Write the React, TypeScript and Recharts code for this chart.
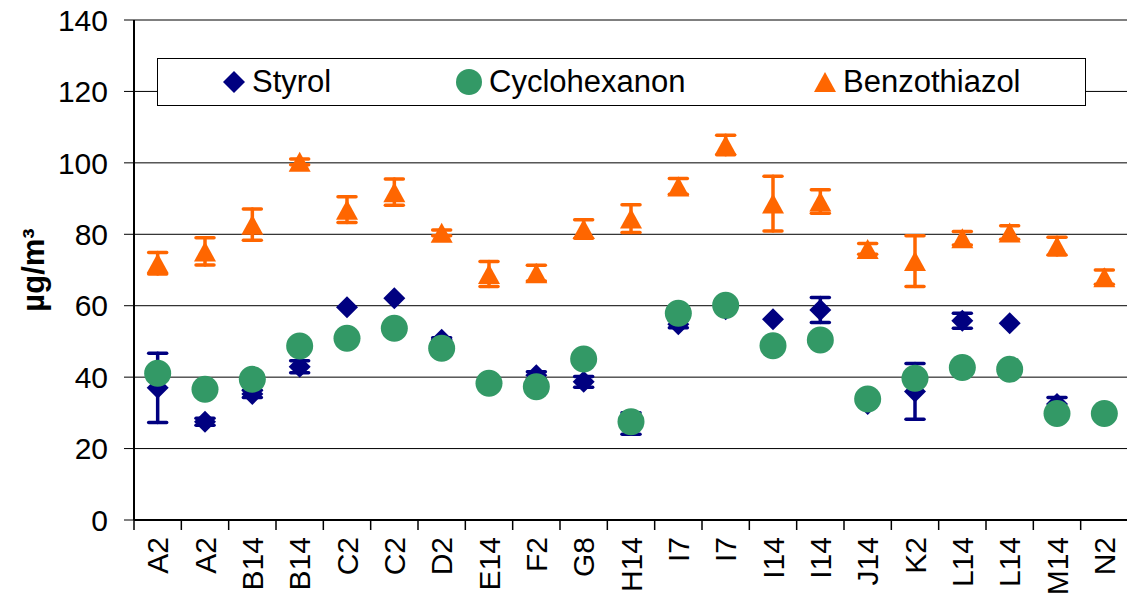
import React from 'react';
import { ComposedChart, Scatter, XAxis, YAxis, CartesianGrid, ErrorBar, Legend } from 'recharts';

const CATEGORIES = ['A2', 'A2', 'B14', 'B14', 'C2', 'C2', 'D2', 'E14', 'F2', 'G8', 'H14', 'I7', 'I7', 'I14', 'I14', 'J14', 'K2', 'L14', 'L14', 'M14', 'N2'];
const STYROL = [37, 27.5, 35.3, 42.9, 59.6, 62.1, 50.5, 38, 40.5, 38.7, 27, 54.8, 59, 56.2, 58.8, 32.5, 36, 55.8, 55.1, 32.5, 30];
const STYROL_ERR = [9.7, 1, 1, 1.7, 0, 0, 0.5, 0, 1, 1.5, 3, 1, 0.5, 0, 3.5, 0.5, 7.8, 2.1, 0, 1.8, 0];
const CYCLOHEXANON = [41.1, 36.6, 39.4, 48.7, 50.9, 53.7, 48.1, 38.3, 37.3, 45.1, 27.5, 57.9, 60.1, 48.8, 50.4, 33.9, 39.7, 42.7, 42.2, 29.8, 29.8];
const BENZOTHIAZOL = [71.9, 75.2, 82.7, 100.3, 86.9, 91.8, 80.4, 68.9, 69.1, 81.5, 84.4, 93.4, 105, 88.6, 89.2, 75.9, 72.5, 78.9, 80.5, 76.7, 68];
const BENZOTHIAZOL_ERR = [3, 3.8, 4.4, 0.8, 3.6, 3.7, 0.8, 3.5, 2.2, 2.6, 3.9, 2.2, 2.7, 7.65, 3.3, 1.5, 7.1, 1.9, 1.9, 2.5, 2];
const Y_TICKS = [0, 20, 40, 60, 80, 100, 120, 140];
const SERIES_NAMES = ['Styrol', 'Cyclohexanon', 'Benzothiazol'];

const NAVY = '#000080';
const GREEN = '#339966';
const ORANGE = '#FF6600';
const FONT = '"Liberation Sans", Arial, sans-serif';

const CHART_W = 1130;
const CHART_H = 603;
const Y_AXIS_W = 134;
const X_AXIS_H = 83;
const MARGIN = { top: 20, right: 2, left: 0, bottom: 0 };
const PLOT_W = CHART_W - Y_AXIS_W - MARGIN.left - MARGIN.right;
const AXIS_Y = CHART_H - X_AXIS_H - MARGIN.bottom;

const data = CATEGORIES.map((name, i) => ({
  idx: i,
  name,
  styrol: STYROL[i],
  styrolErr: STYROL_ERR[i],
  cyclo: CYCLOHEXANON[i],
  benz: BENZOTHIAZOL[i],
  benzErr: BENZOTHIAZOL_ERR[i],
}));

const Diamond = (props: any) => {
  const { cx, cy } = props;
  if (cx == null || cy == null) return null;
  const s = 11;
  return <path d={`M${cx},${cy - s}L${cx + s},${cy}L${cx},${cy + s}L${cx - s},${cy}Z`} fill={NAVY} />;
};
const Dot = (props: any) => {
  const { cx, cy } = props;
  if (cx == null || cy == null) return null;
  return <circle cx={cx} cy={cy} r={13.5} fill={GREEN} />;
};
const Tri = (props: any) => {
  const { cx, cy } = props;
  if (cx == null || cy == null) return null;
  return <path d={`M${cx},${cy - 10}L${cx + 11},${cy + 10}L${cx - 11},${cy + 10}Z`} fill={ORANGE} />;
};

const XTick = (props: any) => {
  const { x, payload } = props;
  const band = PLOT_W / CATEGORIES.length;
  return (
    <g>
      <line x1={x - band / 2} x2={x - band / 2} y1={AXIS_Y} y2={AXIS_Y + 10} stroke="#000" strokeWidth={1.5} />
      <text
        transform={`translate(${x},${AXIS_Y + 17}) rotate(-90)`}
        textAnchor="end"
        dy="0.35em"
        fontSize={30}
        fontFamily={FONT}
        fill="#000"
      >
        {CATEGORIES[payload.value]}
      </text>
    </g>
  );
};

const YTitle = (props: any) => {
  const vb = props.viewBox || { x: 0, y: 20, width: 134, height: 500 };
  const cx = vb.x + 33;
  const cy = vb.y + vb.height / 2;
  return (
    <text
      transform={`translate(${cx},${cy}) rotate(-90)`}
      textAnchor="middle"
      dy="0.35em"
      fontSize={31}
      fontWeight="bold"
      fontFamily={FONT}
      fill="#000"
    >
      µg/m³
    </text>
  );
};

const legendSymbol = (i: number) => {
  if (i === 0) return <svg width={24} height={24}><path d="M12,1L23,12L12,23L1,12Z" fill={NAVY} /></svg>;
  if (i === 1) return <svg width={28} height={28}><circle cx={14} cy={14} r={13} fill={GREEN} /></svg>;
  return <svg width={24} height={22}><path d="M12,1L23,21L1,21Z" fill={ORANGE} /></svg>;
};

const LEGEND_ITEM_LEFT = [64, 297, 655];

const LegendBox = () => (
  <div
    style={{
      position: 'relative',
      width: 929,
      height: 48,
      boxSizing: 'border-box',
      border: '1px solid #000',
      background: '#fff',
      fontFamily: FONT,
      fontSize: 31,
      color: '#000',
    }}
  >
    {SERIES_NAMES.map((n, i) => (
      <div
        key={n}
        style={{
          position: 'absolute',
          left: LEGEND_ITEM_LEFT[i],
          top: 0,
          height: 46,
          display: 'flex',
          alignItems: 'center',
          gap: 6,
          whiteSpace: 'nowrap',
        }}
      >
        {legendSymbol(i)}
        <span style={{ lineHeight: '46px' }}>{n}</span>
      </div>
    ))}
  </div>
);

export default function App() {
  return (
    <div style={{ position: 'absolute', left: 0, top: 0, width: CHART_W, height: CHART_H, background: '#fff' }}>
      <ComposedChart width={CHART_W} height={CHART_H} data={data} margin={MARGIN}>
        <CartesianGrid horizontal vertical={false} stroke="#000" strokeWidth={1} />
        <XAxis
          dataKey="idx"
          type="category"
          scale="band"
          height={X_AXIS_H}
          tickLine={false}
          axisLine={{ stroke: '#000', strokeWidth: 2 }}
          tick={<XTick />}
          interval={0}
        />
        <YAxis
          type="number"
          domain={[0, 140]}
          ticks={Y_TICKS}
          width={Y_AXIS_W}
          tickSize={10}
          tickMargin={16}
          tickLine={{ stroke: '#000', strokeWidth: 1 }}
          axisLine={{ stroke: '#000', strokeWidth: 2 }}
          tick={{ fontSize: 30, fontFamily: FONT, fill: '#000' }}
          label={<YTitle />}
          interval={0}
        />
        <Legend
          layout="vertical"
          verticalAlign="middle"
          align="center"
          content={<LegendBox />}
          wrapperStyle={{ position: 'absolute', left: 157, top: 58, width: 929, height: 48 }}
        />
        <Scatter name="Styrol" dataKey="styrol" shape={<Diamond />} isAnimationActive={false}>
          <ErrorBar dataKey="styrolErr" direction="y" width={9} stroke={NAVY} strokeWidth={3.5} strokeLinecap="round" />
        </Scatter>
        <Scatter name="Cyclohexanon" dataKey="cyclo" shape={<Dot />} isAnimationActive={false} />
        <Scatter name="Benzothiazol" dataKey="benz" shape={<Tri />} isAnimationActive={false}>
          <ErrorBar dataKey="benzErr" direction="y" width={9} stroke={ORANGE} strokeWidth={3.5} strokeLinecap="round" />
        </Scatter>
      </ComposedChart>
    </div>
  );
}
